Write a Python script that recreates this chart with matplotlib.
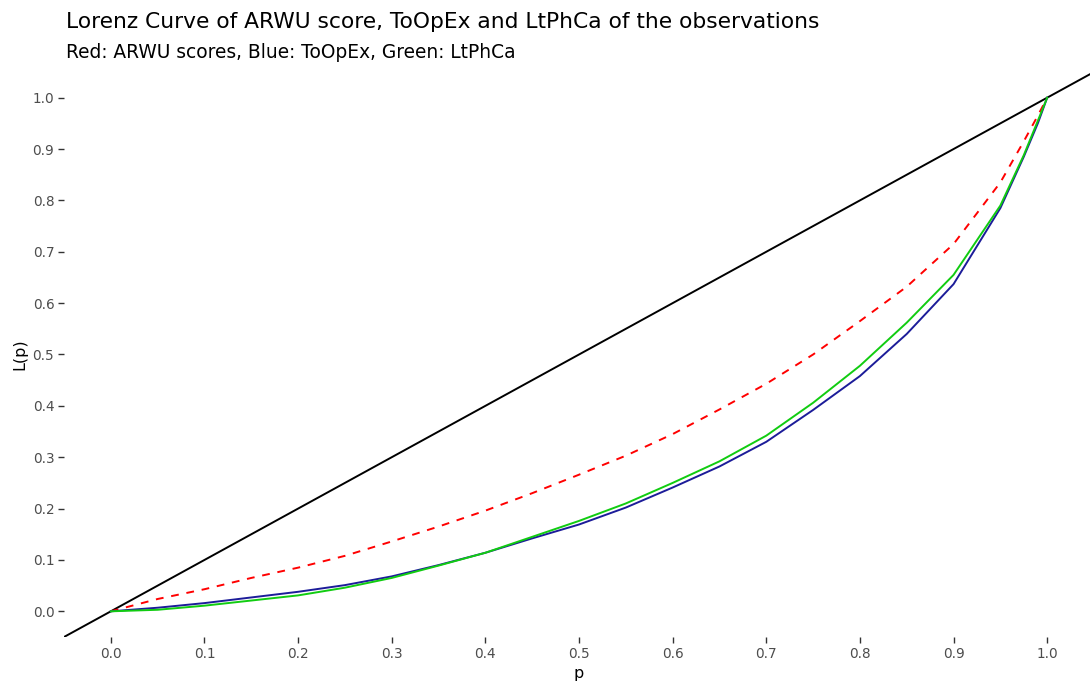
import matplotlib
matplotlib.use("Agg")
import matplotlib.pyplot as plt

plt.rcParams["font.family"] = ["DejaVu Sans"]

# cumulative population share
p = [0.0, 0.05, 0.1, 0.15, 0.2, 0.25, 0.3, 0.35, 0.4, 0.45, 0.5, 0.55,
     0.6, 0.65, 0.7, 0.75, 0.8, 0.85, 0.9, 0.95, 0.975, 0.99, 1.0]

# Lorenz curves
arwu = [0.0, 0.024, 0.043, 0.065, 0.085, 0.108, 0.136, 0.165, 0.196, 0.230,
        0.266, 0.303, 0.345, 0.393, 0.443, 0.500, 0.565, 0.632, 0.715, 0.835,
        0.915, 0.965, 1.0]
toopex = [0.0, 0.007, 0.016, 0.027, 0.038, 0.051, 0.068, 0.090, 0.114, 0.142,
          0.169, 0.202, 0.241, 0.282, 0.330, 0.392, 0.458, 0.540, 0.637, 0.785,
          0.885, 0.950, 1.0]
ltphca = [0.0, 0.003, 0.011, 0.021, 0.031, 0.046, 0.065, 0.089, 0.114, 0.145,
          0.176, 0.210, 0.250, 0.292, 0.342, 0.406, 0.478, 0.562, 0.655, 0.790,
          0.888, 0.955, 1.0]

ticks = [i / 10 for i in range(11)]

fig = plt.figure(figsize=(10.9, 6.89), dpi=100)
ax = fig.add_axes([64 / 1090, 52 / 689, 1030 / 1090, 565 / 689])

# line of equality
ax.axline((0, 0), slope=1, color="black", lw=1.4)
ax.plot(p, arwu, color="red", lw=1.4, ls=(0, (4, 4)))
ax.plot(p, toopex, color="#1c1c99", lw=1.4)
ax.plot(p, ltphca, color="#11cc11", lw=1.4)

ax.set_xlim(-0.05, 1.05)
ax.set_ylim(-0.05, 1.05)
ax.set_xticks(ticks)
ax.set_yticks(ticks)
ax.set_xticklabels([f"{t:.1f}" for t in ticks])
ax.set_yticklabels([f"{t:.1f}" for t in ticks])

for s in ax.spines.values():
    s.set_visible(False)
ax.tick_params(length=4, width=1, color="#333333", labelcolor="#4D4D4D",
               labelsize=9.8, pad=3)

ax.set_xlabel("p", fontsize=11.5, labelpad=4)
ax.set_ylabel("L(p)", fontsize=11.5, labelpad=4)

fig.text(66 / 1090, 1 - 28 / 689, "Lorenz Curve of ARWU score, ToOpEx and LtPhCa of the observations",
         fontsize=15.7, va="baseline", ha="left")
fig.text(66 / 1090, 1 - 58 / 689, "Red: ARWU scores, Blue: ToOpEx, Green: LtPhCa",
         fontsize=13.4, va="baseline", ha="left")

fig.savefig("out.png", dpi=100)
